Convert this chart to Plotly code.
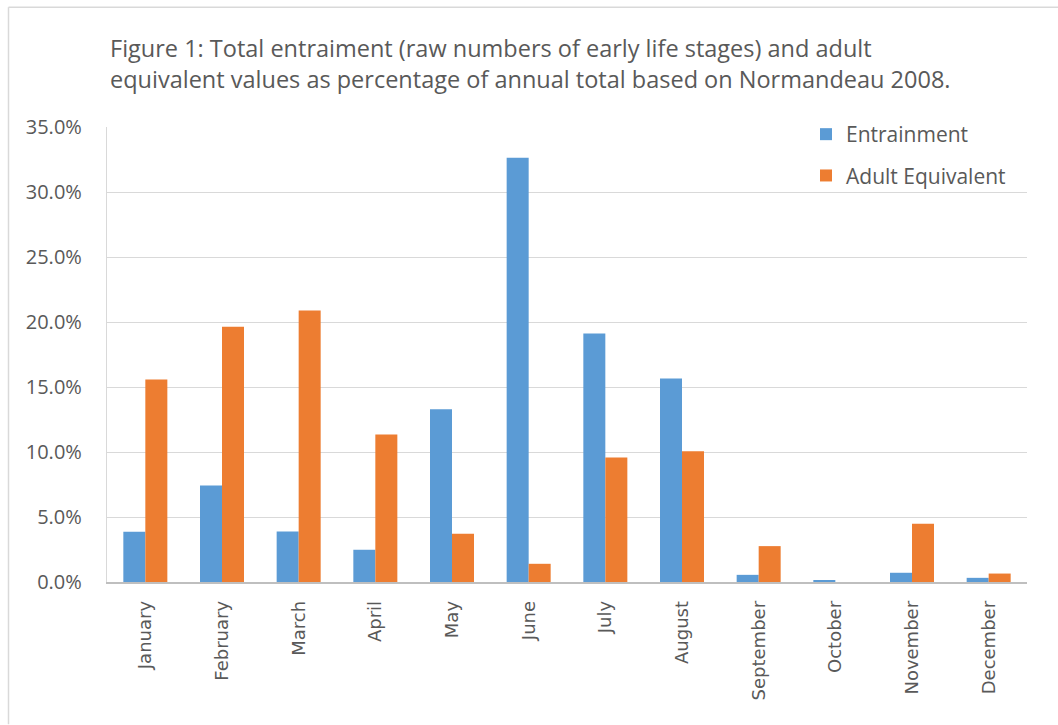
import plotly.graph_objects as go

months = ["January", "February", "March", "April", "May", "June", "July",
          "August", "September", "October", "November", "December"]
entrainment = [0.0386, 0.0742, 0.0388, 0.0248, 0.1329, 0.3263, 0.1912,
               0.1565, 0.0055, 0.0012, 0.0071, 0.0032]
adult_equivalent = [0.1558, 0.1963, 0.2088, 0.1135, 0.0371, 0.0140, 0.0958,
                    0.1006, 0.0276, 0.0, 0.0448, 0.0065]
y_ticks = [0.0, 0.05, 0.10, 0.15, 0.20, 0.25, 0.30, 0.35]

W, H = 1058, 725
L, R, T, B = 107, 31, 127, 142.5
pw, ph = W - L - R, H - T - B

def px(x):
    return (x - L) / pw

def py(y):
    return (H - B - y) / ph

TEXT = "#595959"
GRID = "#d9d9d9"

fig = go.Figure()
fig.add_trace(go.Bar(x=months, y=entrainment, name="Entrainment",
                     marker=dict(color="#5B9BD5", line=dict(width=0)),
                     legendgroup="a"))
fig.add_trace(go.Bar(x=months, y=adult_equivalent, name="Adult Equivalent",
                     marker=dict(color="#ED7D31", line=dict(width=0)),
                     legendgroup="b"))

fig.update_layout(
    width=W, height=H,
    margin=dict(l=L, r=R, t=T, b=B),
    paper_bgcolor="white", plot_bgcolor="white",
    barmode="group", bargap=0.426, bargroupgap=0,
    font=dict(family="Open Sans", color=TEXT),
    showlegend=True,
    legend=dict(x=px(806), y=py(114), xanchor="left", yanchor="top",
                font=dict(size=21, color=TEXT), bgcolor="rgba(0,0,0,0)",
                tracegroupgap=11, itemclick=False),
    xaxis=dict(tickangle=-90, tickfont=dict(family="DejaVu Sans", size=18, color=TEXT),
               showline=True, linecolor="#bfbfbf", linewidth=1.5,
               showgrid=False, ticks="", fixedrange=True, ticklabelstandoff=10),
    yaxis=dict(range=[0, 0.35], tickvals=y_ticks, tickformat=".1%",
               tickfont=dict(size=20, color=TEXT), showgrid=True,
               gridcolor=GRID, gridwidth=1.3, showline=True, linecolor=GRID,
               linewidth=1.3, zeroline=False, ticks="", ticklabelstandoff=20),
    annotations=[dict(
        text="Figure 1: Total entraiment (raw numbers of early life stages) and adult<br>"
             "equivalent values as percentage of annual total based on Normandeau 2008.",
        xref="paper", yref="paper", x=px(108), y=py(30), xanchor="left", yanchor="top",
        align="left", showarrow=False, font=dict(size=23.5, color=TEXT))],
    shapes=[
        dict(type="line", xref="paper", yref="paper", x0=px(8.5), x1=px(1058),
             y0=py(7), y1=py(7), line=dict(color=GRID, width=1.5)),
        dict(type="line", xref="paper", yref="paper", x0=px(8.5), x1=px(8.5),
             y0=py(7), y1=py(725), line=dict(color=GRID, width=1.5)),
    ],
)

fig.write_html("out.html")
